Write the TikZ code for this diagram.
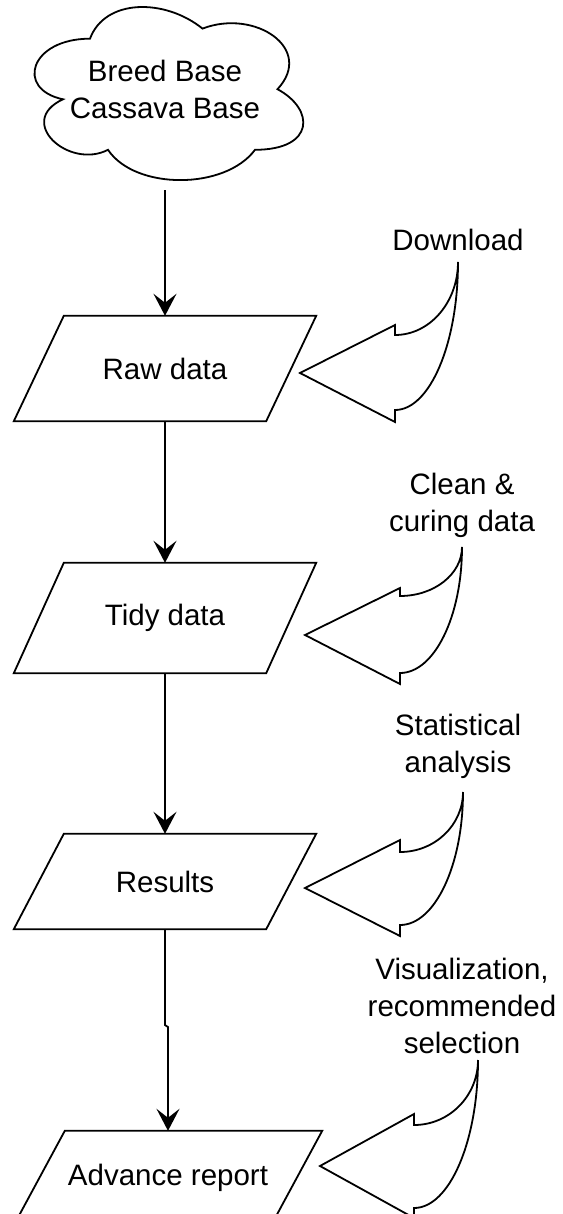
\documentclass[tikz,border=0pt]{standalone}
\usepackage{fontspec}
\setmainfont{Liberation Sans}
\usetikzlibrary{arrows.meta,calc}

\tikzset{
  ink/.style={line width=1.8pt, line join=miter, black},
  flow/.style={ink, -{Stealth[length=22pt,width=23pt,inset=9pt]}},
  txt/.style={font=\fontsize{29.5}{37}\selectfont, align=center, inner sep=0pt},
  databox/.style={txt, minimum width=302pt},
}

% outline of a slanted data box around node #1, slant #2
\newcommand{\dataoutline}[2]{%
  \draw[ink] ([xshift=#2]#1.north west) -- (#1.north east)
    -- ([xshift=-#2]#1.south east) -- (#1.south west) -- cycle;}

% curved block arrow: tip (#1,#2), barb column #3, barb/notch rows #4..#7, top point (#8,#9)
\newcommand{\curvedpointer}[9]{%
  \draw[ink] (#1,#2) -- (#3,#4) -- (#3,#5)
    .. controls +({0.552*(#8-#3)},0) and +(0,{0.552*(#5-#9)}) .. (#8,#9)
    .. controls +(0,{0.552*(#6-#9)}) and +({0.552*(#8-#3)},0) .. (#3,#6)
    -- (#3,#7) -- cycle;}

\begin{document}
\begin{tikzpicture}[x={(1pt,0)}, y={(0,-1pt)}]
\useasboundingbox (0,0) rectangle (562,1214);
\clip (0,0) rectangle (562,1214);

% source cloud
\begin{scope}[shift={(15,-11.8)}, x={(300pt,0)}, y={(0,-202pt)}]
  \draw[ink] (0.25,0.25) .. controls (0.05,0.25) and (0,0.5) .. (0.16,0.55)
    .. controls (0,0.66) and (0.18,0.9) .. (0.31,0.8)
    .. controls (0.4,1) and (0.7,1) .. (0.8,0.8)
    .. controls (1,0.8) and (1,0.6) .. (0.875,0.5)
    .. controls (1,0.3) and (0.8,0.1) .. (0.625,0.2)
    .. controls (0.5,0.05) and (0.3,0.05) .. (0.25,0.25) -- cycle;
\end{scope}
\node[txt, minimum width=300pt, minimum height=202pt] (cloud) at (165,89.2) {Breed Base\\Cassava Base};

% data stages
\node[databox, minimum height=105pt] (raw) at (165,368.5) {Raw data};
\node[databox, minimum height=110pt] (tidy) at (165,618) {Tidy data};
\node[databox, minimum height=95pt] (results) at (165,881.5) {Results};
\node[databox, minimum width=308pt, minimum height=94pt] (advance) at (168,1178) {Advance report};
\dataoutline{raw}{50pt}
\dataoutline{tidy}{50pt}
\dataoutline{results}{50pt}
\dataoutline{advance}{51pt}

% process steps
\curvedpointer{300}{373}{395}{325}{335}{410}{422}{458}{262}
\curvedpointer{305}{635}{400}{588}{596}{673}{684}{462}{547}
\curvedpointer{305}{888}{400}{840}{852}{925}{936}{463}{792}
\curvedpointer{320}{1166}{414}{1114}{1125}{1208}{1218}{478}{1060}
\node[txt] (download) at (458,240) {Download};
\node[txt] (clean) at (462,505) {Clean \&\\curing data};
\node[txt] (stats) at (458,746.5) {Statistical\\analysis};
\node[txt] (visual) at (462,1006) {Visualization,\\recommended\\selection};

% flow
\coordinate (jogA) at (165,1025);
\coordinate (jogB) at (168,1027);
\draw[flow] (cloud.south) -- (raw.north);
\draw[flow] (raw.south) -- (tidy.north);
\draw[flow] (tidy.south) -- (results.north);
\draw[flow] (results.south) -- (jogA) -- (jogB) -- (advance.north);
\end{tikzpicture}
\end{document}
